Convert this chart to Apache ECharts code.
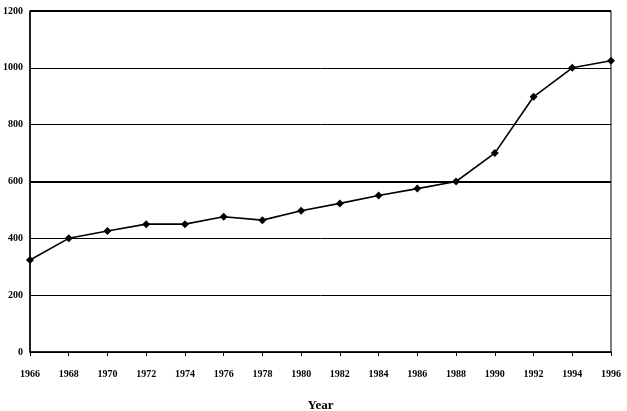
<!DOCTYPE html>
<html>
<head>
<meta charset="utf-8">
<script src="https://cdn.jsdelivr.net/npm/echarts@6/dist/echarts.min.js"></script>
<style>
  html, body { margin: 0; padding: 0; background: #fff; }
  #chart { width: 627px; height: 411px; }
</style>
</head>
<body>
<div id="chart"></div>
<script>
// data
const years = ['1966','1968','1970','1972','1974','1976','1978','1980',
               '1982','1984','1986','1988','1990','1992','1994','1996'];
const values = [324, 400, 426, 450, 450, 476, 464, 497,
                523, 551, 575, 600, 700, 898, 1000, 1025];
const yTicks = [0, 200, 400, 600, 800, 1000, 1200];

const serif = 'Liberation Serif';
const chart = echarts.init(document.getElementById('chart'));

chart.setOption({
    animation: false,
    backgroundColor: '#fff',
    grid: {
        left: 30, right: 16, top: 11, bottom: 59,
        outerBoundsMode: 'none',
        containLabel: false,
        show: true, borderColor: '#000', borderWidth: 1
    },
    xAxis: {
        type: 'category',
        data: years,
        boundaryGap: false,
        name: 'Year',
        nameLocation: 'middle',
        nameGap: 47,
        nameTextStyle: { fontFamily: serif, fontWeight: 'bold', fontSize: 13, color: '#000' },
        axisLine: { lineStyle: { color: '#000', width: 1.5 } },
        axisTick: { show: true, length: 4, lineStyle: { color: '#000' } },
        axisLabel: { fontFamily: serif, fontWeight: 'bold', fontSize: 10, color: '#000', margin: 17 },
        splitLine: { show: false }
    },
    yAxis: {
        type: 'value',
        min: yTicks[0],
        max: yTicks[yTicks.length - 1],
        interval: 200,
        axisLine: { show: true, lineStyle: { color: '#000', width: 1.5 } },
        axisTick: { show: false },
        axisLabel: {
            fontFamily: serif, fontWeight: 'bold', fontSize: 10, color: '#000', margin: 7,
            formatter: v => String(v)
        },
        splitLine: { lineStyle: { color: '#000', width: 1 } }
    },
    series: [{
        type: 'line',
        data: values,
        symbol: 'diamond',
        symbolSize: 8,
        itemStyle: { color: '#000' },
        lineStyle: { color: '#000', width: 1.6 },
        markLine: {
            silent: true,
            symbol: 'none',
            label: { show: false },
            lineStyle: { color: '#000', width: 2, type: 'solid' },
            data: [{ yAxis: 600 }, { yAxis: 1200 }]
        }
    }]
});
</script>
</body>
</html>
